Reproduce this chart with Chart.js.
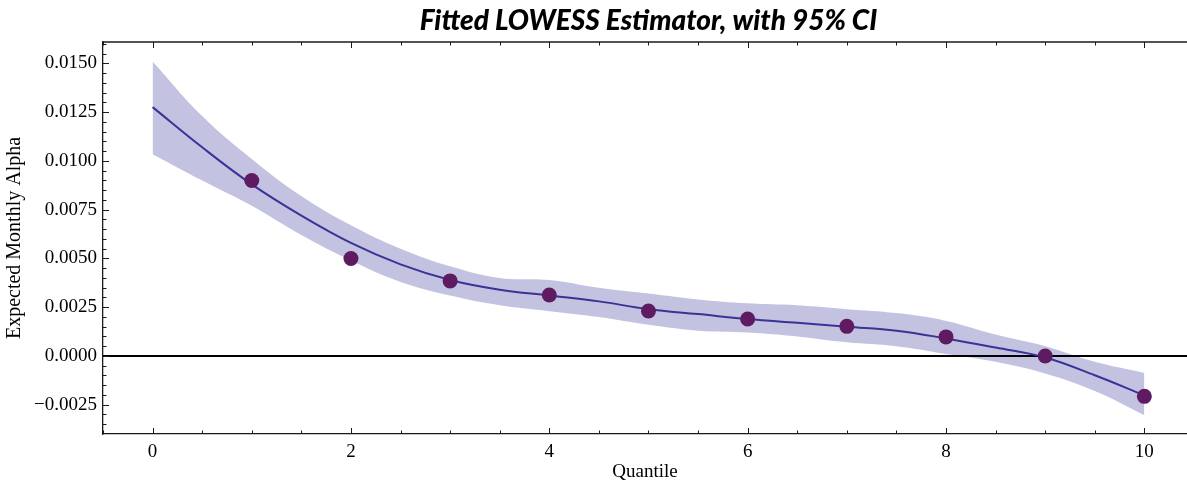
<!DOCTYPE html>
<html>
<head>
<meta charset="utf-8">
<script src="https://cdn.jsdelivr.net/npm/chart.js@4/dist/chart.umd.min.js"></script>
<style>
  html, body { margin: 0; padding: 0; background: #fff; overflow: hidden; }
</style>
</head>
<body>
<canvas id="myChart" width="1187" height="484" style="width:1187px;height:484px"></canvas>
<script>
// quantile observations
const quantiles = [1, 2, 3, 4, 5, 6, 7, 8, 9, 10]
const alphaValues = [0.0090, 0.0050, 0.00385, 0.00313, 0.00231, 0.0019, 0.00152, 0.00098, 0.0000, -0.00207]

// LOWESS fit and 95% band at half steps
const fitX = [0, 0.5, 1, 1.5, 2, 2.5, 3, 3.5, 4, 4.5, 5, 5.5, 6, 6.5, 7, 7.5, 8, 8.5, 9, 9.5, 10]
const fitY = [0.01276, 0.0107, 0.0088, 0.0072, 0.0058, 0.0047, 0.0039, 0.0034, 0.0031, 0.0028, 0.0024, 0.00215, 0.0019, 0.0017, 0.0015, 0.0013, 0.0009, 0.00043, -0.00008, -0.00099, -0.00202]
const ciUpper = [0.0151, 0.0123, 0.0101, 0.0082, 0.0067, 0.0055, 0.0046, 0.0040, 0.0039, 0.0035, 0.0032, 0.0029, 0.0027, 0.0026, 0.0024, 0.0022, 0.0018, 0.0011, 0.0005, -0.0003, -0.00087]
const ciLower = [0.01035, 0.0090, 0.0077, 0.0062, 0.0049, 0.0038, 0.0031, 0.0026, 0.0023, 0.0020, 0.0016, 0.0013, 0.0012, 0.0010, 0.0007, 0.0005, 0.0001, -0.0003, -0.0009, -0.0018, -0.00304]

// axis ticks
const xTickValues = [0, 2, 4, 6, 8, 10]
const yTickValues = [-0.0025, 0, 0.0025, 0.005, 0.0075, 0.01, 0.0125, 0.015]

const toPts = (xs, ys) => xs.map((x, i) => ({ x: x, y: ys[i] }))

const spineColor = '#1a1a1a'

// inward ticks (major + minor) on left, bottom and top, plus top spine and zero line
const axesDecor = {
  id: 'axesDecor',
  afterDatasetDraw (chart, args) {
    if (args.index !== 0) return
    const { ctx, chartArea, scales } = chart
    const y0 = scales.y.getPixelForValue(0)
    ctx.save()
    ctx.strokeStyle = '#000'
    ctx.lineWidth = 2
    ctx.beginPath()
    ctx.moveTo(chartArea.left, y0)
    ctx.lineTo(chartArea.right, y0)
    ctx.stroke()
    ctx.restore()
  },
  afterDraw (chart) {
    const { ctx, chartArea, scales } = chart
    const { left, right, top, bottom } = chartArea
    ctx.save()
    ctx.strokeStyle = spineColor
    ctx.lineWidth = 1.3
    ctx.beginPath()
    ctx.moveTo(left, top)
    ctx.lineTo(right, top)
    ctx.stroke()
    ctx.lineWidth = 1
    ctx.beginPath()
    // x ticks every 0.5
    for (let k = -1; k <= 21; k++) {
      const v = k * 0.5
      const px = Math.round(scales.x.getPixelForValue(v)) + 0.5
      if (px < left || px > right) continue
      const len = xTickValues.includes(v) ? 6 : 3.5
      ctx.moveTo(px, bottom); ctx.lineTo(px, bottom - len)
      ctx.moveTo(px, top); ctx.lineTo(px, top + len)
    }
    // y ticks every 0.0005
    for (let k = -8; k <= 32; k++) {
      const v = k * 0.0005
      const py = Math.round(scales.y.getPixelForValue(v)) + 0.5
      if (py < top || py > bottom) continue
      const len = (k % 5 === 0) ? 6 : 3.5
      ctx.moveTo(left, py); ctx.lineTo(left + len, py)
    }
    ctx.stroke()
    // title centred on the full axes (the figure is cropped on the right)
    ctx.fillStyle = '#000'
    ctx.font = 'italic 900 28px Lato'
    ctx.textAlign = 'center'
    ctx.textBaseline = 'middle'
    const cx = (left + scales.x.getPixelForValue(10.5)) / 2
    ctx.fillText('Fitted LOWESS Estimator, with 95% CI', cx, 21)
    ctx.restore()
  }
}

const ctx = document.getElementById('myChart').getContext('2d')
const myChart = new Chart(ctx, {
  type: 'line',
  data: {
    datasets: [{
      label: 'CI upper',
      data: toPts(fitX, ciUpper),
      borderWidth: 0,
      pointRadius: 0,
      fill: '+1',
      backgroundColor: 'rgba(195, 195, 225, 1)',
      tension: 0.4,
      order: 3
    }, {
      label: 'CI lower',
      data: toPts(fitX, ciLower),
      borderWidth: 0,
      pointRadius: 0,
      fill: false,
      tension: 0.4,
      order: 3
    }, {
      label: 'LOWESS',
      data: toPts(fitX, fitY),
      borderColor: '#3a3397',
      borderWidth: 2,
      pointRadius: 0,
      fill: false,
      tension: 0.4,
      order: 2
    }, {
      label: 'Quantile alpha',
      data: toPts(quantiles, alphaValues),
      showLine: false,
      pointRadius: 7.5,
      pointBackgroundColor: '#5e1b62',
      pointBorderWidth: 0,
      order: 1
    }]
  },
  plugins: [axesDecor],
  options: {
    responsive: false,
    animation: false,
    layout: { autoPadding: false, padding: { top: 42, left: 0, right: 0, bottom: 0 } },
    plugins: {
      legend: { display: false },
      tooltip: { enabled: false },
      title: { display: false }
    },
    scales: {
      x: {
        type: 'linear',
        min: -0.5,
        max: 10.43,
        afterBuildTicks: (scale) => { scale.ticks = xTickValues.map(v => ({ value: v })) },
        afterFit: (scale) => {
          scale.height = 50
          scale.paddingLeft = 0
          scale.paddingRight = 0
        },
        grid: { display: false, drawTicks: false },
        border: { display: true, color: spineColor, width: 1.3 },
        ticks: {
          padding: 7,
          color: '#000',
          font: { family: 'Liberation Serif', size: 19 },
          maxRotation: 0
        },
        title: {
          display: true,
          text: 'Quantile',
          color: '#000',
          font: { family: 'Liberation Serif', size: 19 },
          padding: { top: 0, bottom: 1 }
        }
      },
      y: {
        type: 'linear',
        min: -0.004,
        max: 0.0161,
        afterBuildTicks: (scale) => { scale.ticks = yTickValues.map(v => ({ value: v })) },
        afterFit: (scale) => { scale.width = 103 },
        grid: { display: false, drawTicks: false },
        border: { display: true, color: spineColor, width: 1.3 },
        ticks: {
          padding: 6,
          color: '#000',
          font: { family: 'Liberation Serif', size: 19 },
          callback: (v) => v.toFixed(4).replace('-', '\u2212')
        },
        title: {
          display: true,
          text: 'Expected Monthly Alpha',
          color: '#000',
          font: { family: 'Liberation Serif', size: 20 },
          padding: { top: 3, bottom: 0 }
        }
      }
    }
  }
})
</script>
</body>
</html>
